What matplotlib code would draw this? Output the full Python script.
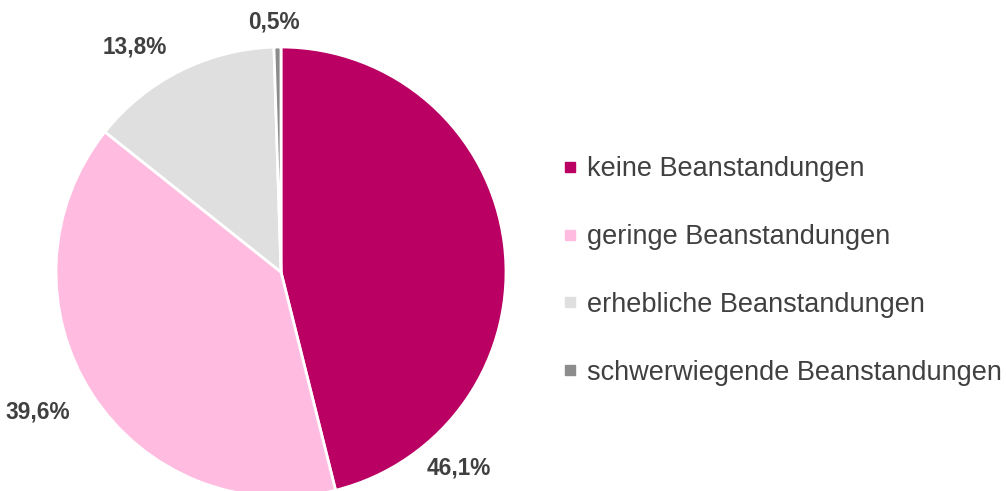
import matplotlib.pyplot as plt
from matplotlib.lines import Line2D

# DATA
# ############################################################################
categories = ['keine Beanstandungen', 'geringe Beanstandungen',
              'erhebliche Beanstandungen', 'schwerwiegende Beanstandungen']
shares = [46.1, 39.6, 13.8, 0.5]
colors = ['#BA0062', '#FFBCE0', '#DFDFDF', '#8C8C8C']

# where Excel put the value labels (pie radius = 1)
label_pos = [(0.79, -0.87), (-1.08, -0.62), (-0.65, 1.00), (-0.03, 1.11)]

plt.rcParams['font.family'] = ['Liberation Sans', 'DejaVu Sans']
TEXT = '#404040'

fig = plt.figure(figsize=(10.06, 4.91), dpi=100)
W, H = 1006, 491
cx, cy, r = 281, 272, 225
ax = fig.add_axes([(cx - r) / W, (H - cy - r) / H, 2 * r / W, 2 * r / H])

wedges, _ = ax.pie(shares, colors=colors, startangle=90, counterclock=False,
                   radius=1, wedgeprops=dict(edgecolor='white', linewidth=2))
for w in wedges:
    w.set_clip_on(False)
ax.set_xlim(-1, 1)
ax.set_ylim(-1, 1)
ax.set_aspect('equal')
ax.axis('off')

for val, (x, y) in zip(shares, label_pos):
    ax.text(x, y, f'{val:.1f}%'.replace('.', ','), ha='center', va='center',
            fontsize=16.3, fontweight='bold', color=TEXT, clip_on=False)

handles = [Line2D([], [], linestyle='none', marker='s', markersize=7,
                  markerfacecolor=c, markeredgecolor=c) for c in colors]
fig.legend(handles, categories, loc='center left',
           bbox_to_anchor=(563 / W, 1 - 271 / H), frameon=False,
           fontsize=19.5, labelcolor=TEXT, handlelength=0.5,
           handletextpad=0.4, labelspacing=1.54, borderpad=0, borderaxespad=0)

fig.savefig('out.png', dpi=100)
